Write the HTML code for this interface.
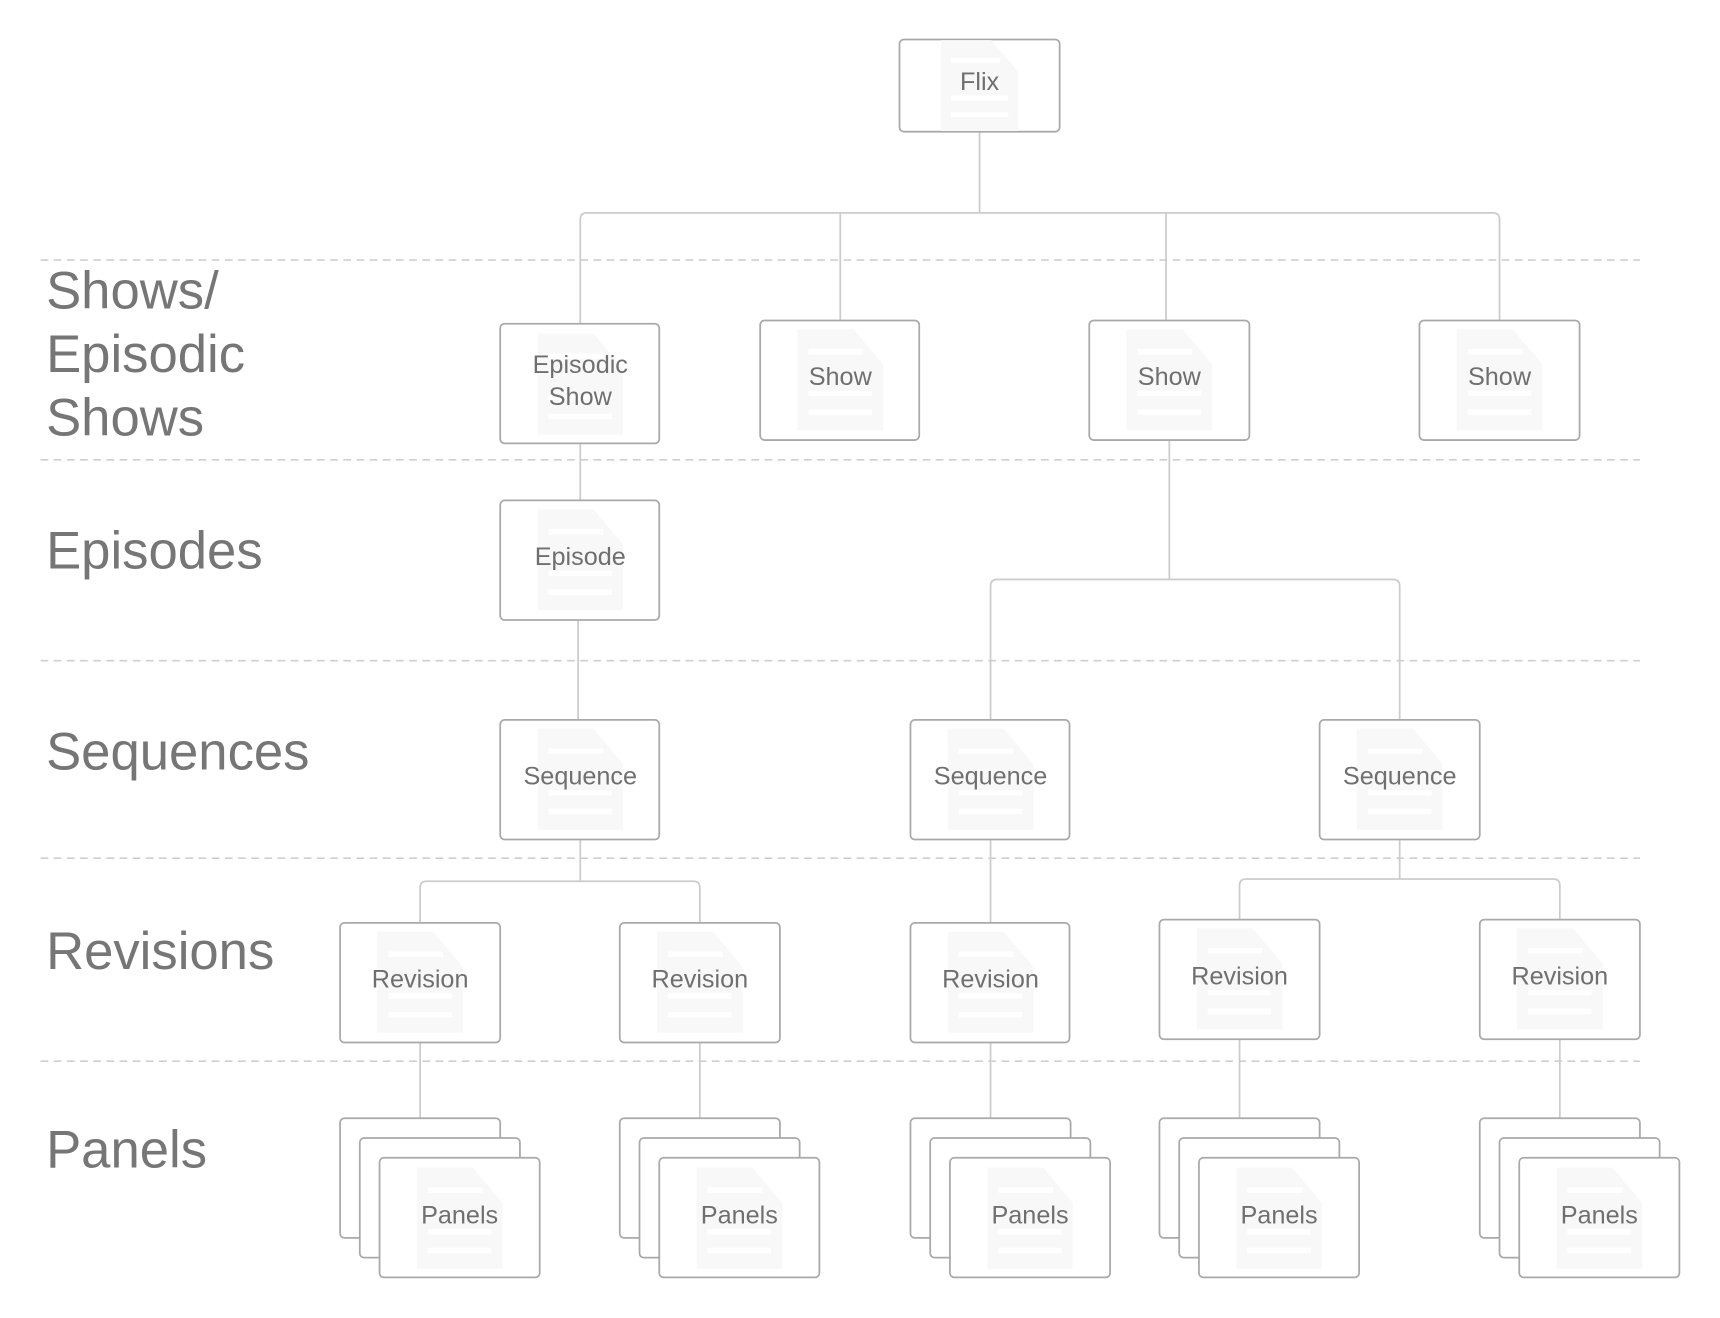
<!DOCTYPE html>
<html><head><meta charset="utf-8"><style>
html,body{margin:0;padding:0;background:#fff;}
svg{display:block;}
text{font-family:"Liberation Sans",sans-serif;fill:#6f6f6f;}
</style></head><body>
<svg width="1720" height="1318" viewBox="0 0 1568 1201" preserveAspectRatio="none" xmlns="http://www.w3.org/2000/svg">
<defs>
<g id="icon">
<path d="M-39,-46 H12 L39,-14 V46 H-39 Z" fill="#f8f8f8"/>
<rect x="-29" y="-28" width="50" height="5" fill="#fff"/>
<rect x="-29" y="10" width="58" height="5" fill="#fff"/>
<rect x="-29" y="27" width="58" height="5" fill="#fff"/>
</g>
</defs>
<g stroke="#cfcfcf" stroke-width="1.5" stroke-dasharray="7,5">
<line x1="37" y1="237" x2="1495" y2="237"/>
<line x1="37" y1="419" x2="1495" y2="419"/>
<line x1="37" y1="602" x2="1495" y2="602"/>
<line x1="37" y1="782" x2="1495" y2="782"/>
<line x1="37" y1="967" x2="1495" y2="967"/>
</g>
<g font-size="48">
<text x="42" y="281" style="fill:#767676">Shows/</text>
<text x="42" y="339" style="fill:#767676">Episodic</text>
<text x="42" y="397" style="fill:#767676">Shows</text>
<text x="42" y="518" style="fill:#767676">Episodes</text>
<text x="42" y="701" style="fill:#767676">Sequences</text>
<text x="42" y="883" style="fill:#767676">Revisions</text>
<text x="42" y="1064" style="fill:#767676">Panels</text>
</g>
<g stroke="#cccccc" stroke-width="1.6" fill="none">
<path d="M893,120 V194"/>
<path d="M529,295 V200 Q529,194 535,194 H1361 Q1367,194 1367,200 V292"/>
<path d="M766,194 V292 M1063,194 V292"/>
<path d="M529,404 V456"/>
<path d="M527,565 V656"/>
<path d="M1066,401 V528"/>
<path d="M903,656 V534 Q903,528 909,528 H1270 Q1276,528 1276,534 V656"/>
<path d="M529,765 V803"/>
<path d="M383,841 V809 Q383,803 389,803 H632 Q638,803 638,809 V841"/>
<path d="M903,765 V841"/>
<path d="M1276,765 V801"/>
<path d="M1130,838 V807 Q1130,801 1136,801 H1416 Q1422,801 1422,807 V838"/>
<path d="M383,950 V1019 M638,950 V1019 M903,950 V1019 M1130,947 V1019 M1422,947 V1019"/>
</g>
<g stroke="#a9a9a9" stroke-width="1.6" fill="#fff" font-size="23" text-anchor="middle">
<rect x="820" y="36" width="146" height="84" rx="4"/><use href="#icon" transform="translate(893,78) scale(0.9)" stroke="none"/>
<text x="893" y="82" stroke="none">Flix</text>

<rect x="456" y="295" width="145" height="109" rx="4"/><use href="#icon" x="529" y="350" stroke="none"/>
<text x="529" y="340" stroke="none">Episodic</text><text x="529" y="369" stroke="none">Show</text>

<rect x="693" y="292" width="145" height="109" rx="4"/><use href="#icon" x="766" y="346" stroke="none"/>
<text x="766" y="351" stroke="none">Show</text>
<rect x="993" y="292" width="146" height="109" rx="4"/><use href="#icon" x="1066" y="346" stroke="none"/>
<text x="1066" y="351" stroke="none">Show</text>
<rect x="1294" y="292" width="146" height="109" rx="4"/><use href="#icon" x="1367" y="346" stroke="none"/>
<text x="1367" y="351" stroke="none">Show</text>

<rect x="456" y="456" width="145" height="109" rx="4"/><use href="#icon" x="529" y="510" stroke="none"/>
<text x="529" y="515" stroke="none">Episode</text>

<rect x="456" y="656" width="145" height="109" rx="4"/><use href="#icon" x="529" y="710" stroke="none"/>
<text x="529" y="715" stroke="none">Sequence</text>
<rect x="830" y="656" width="145" height="109" rx="4"/><use href="#icon" x="903" y="710" stroke="none"/>
<text x="903" y="715" stroke="none">Sequence</text>
<rect x="1203" y="656" width="146" height="109" rx="4"/><use href="#icon" x="1276" y="710" stroke="none"/>
<text x="1276" y="715" stroke="none">Sequence</text>

<rect x="310" y="841" width="146" height="109" rx="4"/><use href="#icon" x="383" y="895" stroke="none"/>
<text x="383" y="900" stroke="none">Revision</text>
<rect x="565" y="841" width="146" height="109" rx="4"/><use href="#icon" x="638" y="895" stroke="none"/>
<text x="638" y="900" stroke="none">Revision</text>
<rect x="830" y="841" width="145" height="109" rx="4"/><use href="#icon" x="903" y="895" stroke="none"/>
<text x="903" y="900" stroke="none">Revision</text>
<rect x="1057" y="838" width="146" height="109" rx="4"/><use href="#icon" x="1130" y="892" stroke="none"/>
<text x="1130" y="897" stroke="none">Revision</text>
<rect x="1349" y="838" width="146" height="109" rx="4"/><use href="#icon" x="1422" y="892" stroke="none"/>
<text x="1422" y="897" stroke="none">Revision</text>

<g>
<rect x="310" y="1019" width="146" height="109" rx="4"/><rect x="328" y="1037" width="146" height="109" rx="4"/><rect x="346" y="1055" width="146" height="109" rx="4"/><use href="#icon" x="419" y="1110" stroke="none"/><text x="419" y="1115" stroke="none">Panels</text>
</g>
<g>
<rect x="565" y="1019" width="146" height="109" rx="4"/><rect x="583" y="1037" width="146" height="109" rx="4"/><rect x="601" y="1055" width="146" height="109" rx="4"/><use href="#icon" x="674" y="1110" stroke="none"/><text x="674" y="1115" stroke="none">Panels</text>
</g>
<g>
<rect x="830" y="1019" width="146" height="109" rx="4"/><rect x="848" y="1037" width="146" height="109" rx="4"/><rect x="866" y="1055" width="146" height="109" rx="4"/><use href="#icon" x="939" y="1110" stroke="none"/><text x="939" y="1115" stroke="none">Panels</text>
</g>
<g>
<rect x="1057" y="1019" width="146" height="109" rx="4"/><rect x="1075" y="1037" width="146" height="109" rx="4"/><rect x="1093" y="1055" width="146" height="109" rx="4"/><use href="#icon" x="1166" y="1110" stroke="none"/><text x="1166" y="1115" stroke="none">Panels</text>
</g>
<g>
<rect x="1349" y="1019" width="146" height="109" rx="4"/><rect x="1367" y="1037" width="146" height="109" rx="4"/><rect x="1385" y="1055" width="146" height="109" rx="4"/><use href="#icon" x="1458" y="1110" stroke="none"/><text x="1458" y="1115" stroke="none">Panels</text>
</g>
</g>
</svg>
</body></html>
